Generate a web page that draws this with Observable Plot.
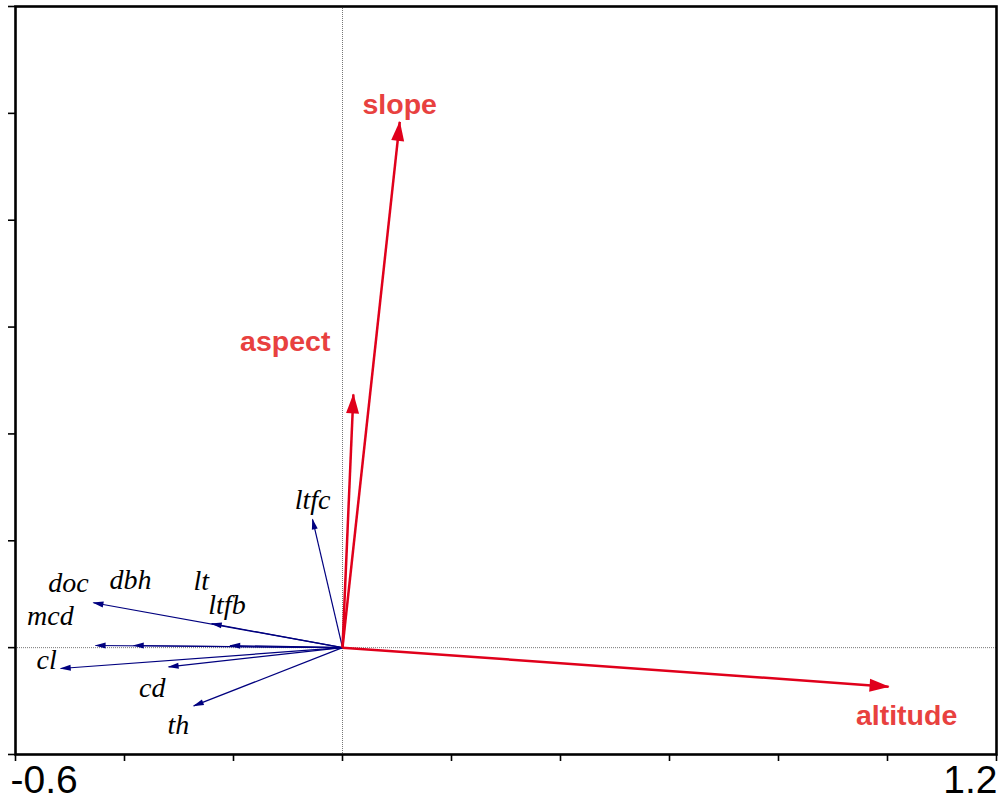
<!DOCTYPE html>
<html>
<head>
<meta charset="utf-8">
<script src="https://cdn.jsdelivr.net/npm/d3@7"></script>
<script src="https://cdn.jsdelivr.net/npm/@observablehq/plot@0.6"></script>
<style>
  html, body { margin: 0; padding: 0; background: #ffffff; }
  #chart svg { display: block; }
</style>
</head>
<body>
<div id="chart"></div>
<script>
// Environmental variables (red arrows)
const envNames  = ["slope", "aspect", "altitude"];
const envX      = [0.105, 0.020, 1.002];
const envY      = [0.984, 0.474, -0.073];
const envLabelX = [0.105, -0.105, 1.035];
const envLabelY = [1.016, 0.573, -0.127];

// Response variables (blue arrows)
const sppNames  = ["doc", "dbh", "lt", "ltfb", "mcd", "cl", "cd", "th", "ltfc"];
const sppX      = [-0.457, -0.383, -0.206, -0.240, -0.453, -0.517, -0.319, -0.273, -0.055];
const sppY      = [0.084, 0.004, 0.004, 0.045, 0.004, -0.039, -0.036, -0.109, 0.240];
const sppLabelX = [-0.503, -0.389, -0.259, -0.212, -0.536, -0.543, -0.349, -0.301, -0.055];
const sppLabelY = [0.120, 0.127, 0.125, 0.079, 0.060, -0.024, -0.075, -0.144, 0.277];

// Axes
const xTicks = [-0.6, -0.4, -0.2, 0, 0.2, 0.4, 0.6, 0.8, 1.0, 1.2];
const yTicks = [-0.2, 0, 0.2, 0.4, 0.6, 0.8, 1.0, 1.2];
const xTickLabels = ["-0.6", "1.2"];
const xTickLabelValues = [-0.6, 1.2];

const env = envNames.map((n, i) => ({name: n, x: envX[i], y: envY[i], lx: envLabelX[i], ly: envLabelY[i]}));
const spp = sppNames.map((n, i) => ({name: n, x: sppX[i], y: sppY[i], lx: sppLabelX[i], ly: sppLabelY[i]}));
const endLabels = xTickLabels.map((t, i) => ({label: t, x: xTickLabelValues[i], y: -0.2}));

const RED = "#e0001b";
const RED_TEXT = "#e8413f";
const BLUE = "#00007f";
const tickFont = "'Liberation Sans', Arial, sans-serif";

const chart = Plot.plot({
  width: 1000,
  height: 803,
  marginLeft: 15,
  marginRight: 4,
  marginTop: 6,
  marginBottom: 49,
  x: {domain: [-0.6, 1.2]},
  y: {domain: [-0.2, 1.2]},
  marks: [
    Plot.ruleX([0], {stroke: "#777", strokeWidth: 1, strokeDasharray: "1,1"}),
    Plot.ruleY([0], {stroke: "#777", strokeWidth: 1, strokeDasharray: "1,1"}),
    Plot.axisX({ticks: xTicks, tickFormat: () => "", tickSize: 7, stroke: "black", strokeWidth: 1.6}),
    Plot.axisY({ticks: yTicks, tickFormat: () => "", tickSize: 7, stroke: "black", strokeWidth: 1.6}),
    Plot.frame({stroke: "black", strokeWidth: 2.6}),
    Plot.link(spp, {x1: () => 0, y1: () => 0, x2: "x", y2: "y", stroke: BLUE, strokeWidth: 1.2}),
    Plot.link(env, {x1: () => 0, y1: () => 0, x2: "x", y2: "y", stroke: RED, strokeWidth: 2.5}),
    Plot.text(spp, {x: "lx", y: "ly", text: "name", fill: "black", fontFamily: "Liberation Serif", fontStyle: "italic", fontSize: 28}),
    Plot.text(env, {x: "lx", y: "ly", text: "name", fill: RED_TEXT, fontFamily: "Liberation Sans", fontWeight: "bold", fontSize: 28.5}),
    Plot.text(endLabels.filter(d => d.x < 0), {x: "x", y: "y", text: "label", dy: 26, dx: -5, lineAnchor: "middle",
      textAnchor: "start", fontFamily: tickFont, fontSize: 39, fill: "black"}),
    Plot.text(endLabels.filter(d => d.x > 0), {x: "x", y: "y", text: "label", dy: 26, dx: 1, lineAnchor: "middle",
      textAnchor: "end", fontFamily: tickFont, fontSize: 39, fill: "black"})
  ]
});

// Filled triangular arrowheads
const ns = "http://www.w3.org/2000/svg";
const defs = document.createElementNS(ns, "defs");
function addMarker(id, color, len, wid) {
  const m = document.createElementNS(ns, "marker");
  m.setAttribute("id", id);
  m.setAttribute("markerUnits", "userSpaceOnUse");
  m.setAttribute("orient", "auto");
  m.setAttribute("refX", "0");
  m.setAttribute("refY", "0");
  m.setAttribute("viewBox", `${-len - 2} ${-wid} ${len + 4} ${2 * wid}`);
  m.setAttribute("markerWidth", String(len + 4));
  m.setAttribute("markerHeight", String(2 * wid));
  m.setAttribute("overflow", "visible");
  const p = document.createElementNS(ns, "path");
  p.setAttribute("d", `M1,0L${-len},${-wid / 2}L${-len},${wid / 2}Z`);
  p.setAttribute("fill", color);
  p.setAttribute("stroke", "none");
  m.appendChild(p);
  defs.appendChild(m);
}
addMarker("head-red", RED, 19, 13);
addMarker("head-blue", BLUE, 10, 6);
chart.insertBefore(defs, chart.firstChild);
chart.querySelectorAll("g").forEach(g => {
  const s = (g.getAttribute("stroke") || "").toLowerCase();
  if (s === RED) g.querySelectorAll("path").forEach(p => p.setAttribute("marker-end", "url(#head-red)"));
  else if (s === BLUE) g.querySelectorAll("path").forEach(p => p.setAttribute("marker-end", "url(#head-blue)"));
});

document.getElementById("chart").appendChild(chart);
</script>
</body>
</html>
